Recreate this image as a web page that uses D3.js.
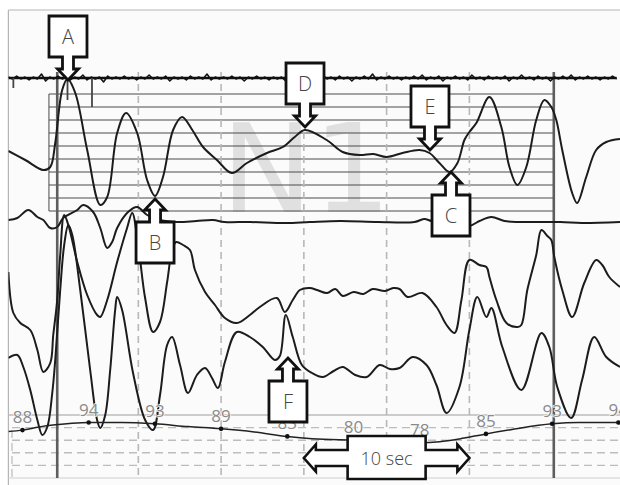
<!DOCTYPE html>
<html>
<head>
<meta charset="utf-8">
<script src="https://cdn.jsdelivr.net/npm/d3@7"></script>
<style>
  html, body { margin: 0; padding: 0; background: #fff; }
  svg { display: block; }
</style>
</head>
<body>
<svg id="chart" width="620" height="485"></svg>
<script>
// ---- recording data (time in seconds, amplitudes in channel units) ----
const gridSeconds = [5, 10, 15, 20, 25];
const eventMarks = [0.1, 30.1];
const stageLabel = "N1";

// chin EMG: sampled every 0.25 s from -2.85 s
const emgStart = -2.85, emgStep = 0.25;
const emgAmp = [
  1,-1,2,-1,1,-2,1,-1,4,-3,1,-1,2,-1,1,-2,1,-1,3,-2,
  1,-1,1,-4,2,-1,1,-1,2,-1,1,-2,1,-1,3,-1,1,-1,2,-3,
  1,-1,1,-2,2,-1,1,-1,4,-2,1,-1,1,-1,2,-1,1,-3,1,-1,
  2,-1,1,-2,1,-1,1,-3,3,-1,1,-1,2,-1,1,-1,3,-1,1,-2,
  2,-1,1,-3,1,-1,2,-1,4,-2,1,-1,2,-1,1,-2,1,-1,2,-1,
  3,-2,1,-1,2,-3,1,-1,2,-1,1,-2,3,-1,1,-2,2,-1,1,-1,
  2,-3,1,-1,3,-1,1,-2,2,-1,1,-3,1,-1,2,-1,3,-2,1,-1,
  2,-1,1,-2,1,-1,2,-1
];
const emgTicks = [[-2.55, 10], [0.72, 22], [2.2, 29]];

// airflow
const flow = [
  [-2.85,-1],[-1.83,-10],[-0.74,-20],[-0.32,-17],[-0.02,7],[0.40,60],[0.72,71],[1.19,57],
  [1.91,0],[2.70,-55],[3.12,-47],[3.72,17],[4.26,37],[4.93,17],[5.53,-30],[6.01,-46],
  [6.49,-27],[7.10,20],[7.64,33],[8.26,20],[8.91,3],[9.75,-10],[10.65,-23],[11.56,-13],
  [12.77,-3],[13.73,3],[14.45,13],[15.06,20],[16.38,10],[17.35,-2],[18.37,-5],[19.2,-4],[20.00,-7],
  [20.96,-3],[21.99,0],[22.59,-3],[23.19,-13],[23.80,-22],[24.28,-13],[24.70,10],[25.00,18],
  [25.42,27],[26.21,53],[26.93,23],[27.42,-17],[27.90,-35],[28.44,-17],[29.04,30],[29.53,50],
  [29.95,43],[30.25,30],[30.61,0],[31.21,-43],[31.51,-53],[32.06,-27],[32.66,0],[33.27,8],[34.1,11]
];

// nasal pressure
const pressure = [
  [-2.85,2],[-2.31,4],[-1.65,12],[-1.10,5],[-0.74,2],[-0.32,-6],[0.10,-5],[0.46,4],[1.31,12],
  [1.67,17],[2.27,10],[2.70,-6],[3.12,-26],[3.42,-20],[3.72,-6],[4.38,10],[4.93,15],[5.53,7],
  [6.31,2],[7.34,0],[8.5,1],[9.51,2],[10.2,0],[11.74,0],[13.9,-1],[15.36,0],[17.2,1],[19.5,0],
  [21.69,0],[22.29,3],[22.71,1],[23.5,0],[24.4,-1],[25.00,-4],[25.61,1],[26.33,5],[27.12,1],
  [28.02,0],[30.5,0],[31.8,-1],[34.1,0]
];

// thoracic effort
const thorax = [
  [-2.85,18],[-2.55,-23],[-2.13,-33],[-1.53,-40],[-1.10,-60],[-0.74,-82],[-0.32,-73],[-0.14,-45],
  [0.10,-10],[0.28,35],[0.52,75],[0.77,65],[1.31,28],[1.91,-5],[2.51,-25],[2.70,-27],[3.12,-10],
  [3.72,28],[4.32,62],[4.63,77],[4.99,45],[5.41,-8],[5.89,-42],[6.31,-32],[6.74,8],[7.04,40],
  [7.28,48],[7.70,45],[8.12,40],[8.42,20],[9.03,-2],[9.63,-15],[10.23,-28],[10.95,-33],
  [11.74,-25],[12.34,-17],[13.37,-8],[13.85,-22],[14.33,-10],[14.76,0],[15.36,2],[15.8,0],
  [16.4,-3],[16.9,1],[17.35,-6],[18.0,-2],[18.6,-4],[19.16,1],[19.9,-1],[20.4,2],[20.78,1],
  [21.27,-7],[22.17,-3],[23.01,-17],[23.62,-35],[24.10,-43],[24.52,-10],[25.00,30],[25.61,25],
  [26.03,23],[26.21,13],[26.63,-10],[27.24,-33],[27.90,-37],[28.14,-35],[28.50,0],[29.04,35],
  [29.35,60],[29.71,54],[29.95,50],[30.13,33],[30.61,0],[31.21,-27],[31.94,7],[32.66,30],
  [33.03,25],[33.45,13],[34.1,3]
];

// abdominal effort
const abdomen = [
  [-2.85,7],[-2.31,10],[-1.95,-2],[-1.53,-25],[-1.10,-55],[-0.80,-70],[-0.50,-62],[-0.20,-28],
  [-0.02,5],[0.28,75],[0.52,120],[0.77,140],[1.01,130],[1.49,75],[2.09,-5],[2.51,-55],[2.70,-63],
  [3.00,-50],[3.30,-5],[3.60,55],[3.72,68],[4.02,55],[4.68,-8],[5.41,-55],[5.89,-65],[6.31,-30],
  [6.74,20],[7.04,28],[7.52,0],[8.00,-28],[8.54,-10],[9.03,-3],[9.45,-13],[9.81,-23],[10.23,3],
  [10.95,33],[11.74,28],[12.52,18],[13.25,5],[13.55,9],[13.91,50],[14.33,28],[14.88,0],
  [15.5,-8],[16.14,-12],[16.8,-6],[17.35,-2],[18.1,-10],[18.80,-12],[19.58,0],[20.2,-4],
  [20.78,-3],[21.57,8],[22.41,0],[23.01,-20],[23.62,-48],[24.40,-22],[25.00,35],[25.48,68],
  [26.03,48],[26.33,57],[26.99,18],[28.14,-25],[29.35,32],[29.83,18],[30.31,-22],[31.15,-53],
  [31.81,-15],[32.54,28],[33.27,8],[34.1,-2]
];

// oxygen saturation (%)
const spo2Trace = [
  [-2.85,87],[-2,88],[-1,90.5],[0,92.2],[1,93.4],[2,94],[4,94],[6,93],[8,90.8],[10,89],
  [12,86.5],[14,83],[15.5,81.2],[18,80],[20,79],[22,78],[23.2,78.8],[24.4,81],[26,85],
  [27.5,88.3],[30,93],[31.6,94],[34,94],[34.1,94]
];
const spo2Labels = [[-2,88],[2,94],[6,93],[10,89],[14,83],[18,80],[22,78],[26,85],[30,93],[34,94]];
const spo2Grid = [90, 80, 70, 60];

// annotated events
const callouts = [
  { id: "A", channel: "flow",    t: 0.75,  v: 70,  dir: "down" },
  { id: "B", channel: "flow",    t: 6.01,  v: -49, dir: "up" },
  { id: "C", channel: "flow",    t: 23.89, v: -22, dir: "up" },
  { id: "D", channel: "flow",    t: 15.07, v: 23,  dir: "down" },
  { id: "E", channel: "flow",    t: 22.62, v: 0,   dir: "down" },
  { id: "F", channel: "abdomen", t: 14.04, v: 7,   dir: "up" }
];
const spanLabel = "10 sec";
const spanStart = 15, spanEnd = 25;

// ---- layout ----
const H = 485;
const plotLeft = 8.4, plotRight = 620, plotTop = 10, plotBottom = 478;
const svg = d3.select("#chart");

const x = d3.scaleLinear().domain([-2.85, 34.1]).range([plotLeft, plotRight]);
const band = c => d3.scaleLinear().domain([-100, 100]).range([c + 100, c - 100]);
const yScales = {
  emg: d3.scaleLinear().domain([-10, 10]).range([88, 68]),
  flow: band(150),
  pressure: band(222),
  thorax: band(290),
  abdomen: band(365)
};
const spo2Y = d3.scaleLinear().domain([50, 100]).range([plotBottom, 415]);

svg.append("defs").append("clipPath").attr("id", "plotClip")
  .append("rect").attr("x", plotLeft).attr("y", plotTop)
  .attr("width", plotRight - plotLeft).attr("height", plotBottom - plotTop + 4);

// frame
svg.append("rect").attr("x", plotLeft).attr("y", plotTop)
  .attr("width", plotRight - plotLeft).attr("height", H - plotTop).attr("fill", "#fbfbfb");
svg.append("line").attr("x1", plotLeft).attr("x2", plotRight).attr("y1", plotTop).attr("y2", plotTop)
  .attr("stroke", "#b5b5b5").attr("stroke-width", 1.2);
svg.append("line").attr("x1", plotLeft).attr("x2", plotLeft).attr("y1", plotTop).attr("y2", H)
  .attr("stroke", "#b5b5b5").attr("stroke-width", 1.2);

// sleep stage watermark
svg.append("text").attr("x", 221).attr("y", 212)
  .attr("font-family", "DejaVu Sans").attr("font-size", 123)
  .attr("fill", "#e0e0e0").text(stageLabel);

// calibration rulings across the flow channel
const rulings = d3.range(10);
const rulY = d3.scaleLinear().domain([0, 9]).range([94, 211]);
const rul = svg.append("g").attr("stroke", "#4a4a4a").attr("stroke-width", 1);
rul.selectAll("line").data(rulings).join("line")
  .attr("x1", x(-0.4)).attr("x2", x(eventMarks[1]))
  .attr("y1", d => rulY(d)).attr("y2", d => rulY(d));
rul.append("line").attr("x1", x(-0.4)).attr("x2", x(-0.4)).attr("y1", rulY(0)).attr("y2", rulY(9));

// SpO2 panel grid
svg.append("line").attr("x1", plotLeft).attr("x2", plotRight).attr("y1", spo2Y(100)).attr("y2", spo2Y(100))
  .attr("stroke", "#bdbdbd").attr("stroke-width", 1.5);
svg.append("line").attr("x1", plotLeft).attr("x2", plotRight).attr("y1", spo2Y(50)).attr("y2", spo2Y(50))
  .attr("stroke", "#cfcfcf").attr("stroke-width", 1.2);
svg.append("g").selectAll("line").data(spo2Grid).join("line")
  .attr("x1", 12).attr("x2", plotRight).attr("y1", d => spo2Y(d)).attr("y2", d => spo2Y(d))
  .attr("stroke", "#bdbdbd").attr("stroke-width", 1.4).attr("stroke-dasharray", "8,5");
svg.append("line").attr("x1", 12).attr("x2", 12).attr("y1", spo2Y(88)).attr("y2", spo2Y(50))
  .attr("stroke", "#c4c4c4").attr("stroke-width", 1.4).attr("stroke-dasharray", "8,5");

// 5-second grid
svg.append("g").selectAll("line").data(gridSeconds).join("line")
  .attr("x1", d => x(d)).attr("x2", d => x(d)).attr("y1", 72).attr("y2", plotBottom)
  .attr("stroke", "#b8b8b8").attr("stroke-width", 1.6).attr("stroke-dasharray", "7,5");

// event markers
svg.append("g").selectAll("line").data(eventMarks).join("line")
  .attr("x1", d => x(d)).attr("x2", d => x(d)).attr("y1", 72).attr("y2", plotBottom)
  .attr("stroke", "#5e5e5e").attr("stroke-width", 2.6);

// traces
const traces = svg.append("g").attr("clip-path", "url(#plotClip)")
  .attr("fill", "none").attr("stroke", "#1c1c1c").attr("stroke-linejoin", "round");

// EMG: dark baseline band with the sampled activity on top
const emgData = emgAmp.map((v, i) => [emgStart + i * emgStep, v]);
traces.append("line")
  .attr("x1", x(emgStart)).attr("x2", x(emgData[emgData.length - 1][0]))
  .attr("y1", yScales.emg(0)).attr("y2", yScales.emg(0))
  .attr("stroke-width", 2.4).attr("stroke", "#111");
traces.append("path").datum(emgData)
  .attr("stroke-width", 1.5).attr("stroke", "#111")
  .attr("d", d3.line().x(d => x(d[0])).y(d => yScales.emg(d[1])));
traces.append("g").selectAll("line").data(emgTicks).join("line")
  .attr("x1", d => x(d[0])).attr("x2", d => x(d[0]))
  .attr("y1", yScales.emg(0)).attr("y2", d => yScales.emg(-d[1]))
  .attr("stroke-width", 1.8).attr("stroke", "#444");

const channelData = { flow, pressure, thorax, abdomen };
Object.entries(channelData).forEach(([key, data]) => {
  traces.append("path").datum(data)
    .attr("stroke-width", 2)
    .attr("d", d3.line().curve(d3.curveCatmullRom.alpha(0.5))
      .x(d => x(d[0])).y(d => yScales[key](d[1])));
});

// SpO2 line, samples and values
traces.append("path").datum(spo2Trace)
  .attr("stroke-width", 1.5).attr("stroke", "#222")
  .attr("d", d3.line().curve(d3.curveMonotoneX).x(d => x(d[0])).y(d => spo2Y(d[1])));
traces.append("g").selectAll("circle").data(spo2Labels).join("circle")
  .attr("cx", d => x(d[0])).attr("cy", d => spo2Y(d[1])).attr("r", 2.3)
  .attr("fill", "#111").attr("stroke", "none");
traces.append("g").selectAll("text").data(spo2Labels).join("text")
  .attr("x", d => x(d[0])).attr("y", d => spo2Y(d[1]) - 7)
  .attr("text-anchor", "middle").attr("font-family", "Open Sans, sans-serif").attr("font-size", 17)
  .attr("fill", "#8a8a8a").attr("stroke", "#fbfbfb").attr("stroke-width", 1.5)
  .attr("paint-order", "stroke")
  .text(d => d[1]);

// callout arrows
function calloutPath(cx, tipY, dir) {
  const hw = 19, bh = 41, sw = 5.5, hh = 10.5, headL = 11, shaftL = 12;
  const s = dir === "down" ? -1 : 1;
  const baseY = tipY + s * headL, boxN = baseY + s * shaftL, boxF = boxN + s * bh;
  const p = [
    [cx, tipY], [cx + hh, baseY], [cx + sw, baseY], [cx + sw, boxN], [cx + hw, boxN],
    [cx + hw, boxF], [cx - hw, boxF], [cx - hw, boxN], [cx - sw, boxN], [cx - sw, baseY],
    [cx - hh, baseY]
  ];
  return { d: "M" + p.map(q => q.join(",")).join("L") + "Z", cy: (boxN + boxF) / 2 };
}
const ann = svg.append("g");
callouts.forEach(c => {
  const cx = x(c.t), tip = yScales[c.channel](c.v);
  const shape = calloutPath(cx, tip, c.dir);
  ann.append("path").attr("d", shape.d).attr("fill", "#fff")
    .attr("stroke", "#111").attr("stroke-width", 2.8).attr("stroke-linejoin", "miter");
  ann.append("text").attr("x", cx).attr("y", shape.cy + 7)
    .attr("text-anchor", "middle").attr("font-family", "Open Sans, sans-serif")
    .attr("font-weight", 300).attr("font-size", 20).attr("fill", "#444").text(c.id);
});

// time span indicator
(function () {
  const x0 = x(spanStart), x1 = x(spanEnd), cx = (x0 + x1) / 2, cy = 458;
  const headL = 12, hh = 13.5, sh = 8, bw = 39, bT = 436, bB = 479;
  const p = [
    [x0, cy], [x0 + headL, cy - hh], [x0 + headL, cy - sh], [cx - bw, cy - sh], [cx - bw, bT],
    [cx + bw, bT], [cx + bw, cy - sh], [x1 - headL, cy - sh], [x1 - headL, cy - hh], [x1, cy],
    [x1 - headL, cy + hh], [x1 - headL, cy + sh], [cx + bw, cy + sh], [cx + bw, bB],
    [cx - bw, bB], [cx - bw, cy + sh], [x0 + headL, cy + sh], [x0 + headL, cy + hh]
  ];
  ann.append("path").attr("d", "M" + p.map(q => q.join(",")).join("L") + "Z")
    .attr("fill", "#fff").attr("stroke", "#111").attr("stroke-width", 2.6);
  ann.append("text").attr("x", cx).attr("y", cy + 7).attr("text-anchor", "middle")
    .attr("font-family", "Open Sans, sans-serif").attr("font-weight", 300)
    .attr("font-size", 18).attr("fill", "#444").text(spanLabel);
})();
</script>
</body>
</html>
